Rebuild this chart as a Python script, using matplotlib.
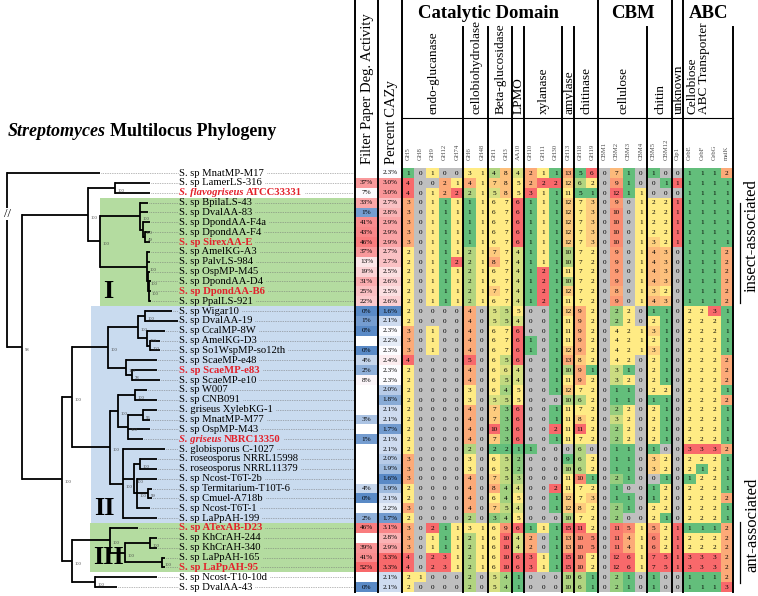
import numpy as np
import matplotlib.pyplot as plt
from matplotlib.patches import Rectangle
from matplotlib.colors import to_rgb

plt.rcParams['font.family'] = ['Liberation Serif', 'DejaVu Serif']

# ---------------- data ----------------
strains = [
    "S. sp MnatMP-M17", "S. sp LamerLS-316", "S. flavogriseus ATCC33331", "S. sp BpilaLS-43",
    "S. sp DvalAA-83", "S. sp DpondAA-F4a", "S. sp DpondAA-F4", "S. sp SirexAA-E",
    "S. sp AmelKG-A3", "S. sp PalvLS-984", "S. sp OspMP-M45", "S. sp DpondAA-D4",
    "S. sp DpondAA-B6", "S. sp PpalLS-921", "S. sp Wigar10", "S. sp DvalAA-19",
    "S. sp CcalMP-8W", "S. sp AmelKG-D3", "S. sp So1WspMP-so12th", "S. sp ScaeMP-e48",
    "S. sp ScaeMP-e83", "S. sp ScaeMP-e10", "S. sp W007", "S. sp CNB091",
    "S. griseus XylebKG-1", "S. sp MnatMP-M77", "S. sp OspMP-M43", "S. griseus NBRC13350",
    "S. globisporus C-1027", "S. roseosporus NRRL15998", "S. roseosporus NRRL11379", "S. sp Ncost-T6T-2b",
    "S. sp Termitarium-T10T-6", "S. sp Cmuel-A718b", "S. sp Ncost-T6T-1", "S. sp LaPpAH-199",
    "S. sp ATexAB-D23", "S. sp KhCrAH-244", "S. sp KhCrAH-340", "S. sp LaPpAH-165",
    "S. sp LaPpAH-95", "S. sp Ncost-T10-10d", "S. sp DvalAA-43",
]
highlighted = [2, 7, 12, 20, 27, 36, 40]
italic_part = {2: "S. flavogriseus", 27: "S. griseus"}

filter_paper = [None, 37, 7, 33, 1, 41, 43, 46, 37, 13, 19, 31, 25, 22,
                0, 1, 0, None, 0, 4, 2, 8, None, None, None, 3, None, 1,
                None, None, None, None, 4, 0, None, 2,
                46, None, 39, 41, 52, None, 0]
percent_cazy = [2.3, 3.0, 3.0, 2.7, 2.8, 2.9, 2.9, 2.9, 2.7, 2.7, 2.5, 2.6, 2.5, 2.6,
                1.6, 2.1, 2.3, 2.2, 2.3, 2.4, 2.3, 2.3, 2.0, 1.8, 2.1, 2.1, 1.7, 2.1,
                2.1, 2.0, 1.9, 1.6, 1.9, 2.1, 2.2, 1.7,
                3.1, 2.8, 2.9, 3.3, 3.3, 2.1, 2.1]

columns = ["GH5", "GH8", "GH9", "GH12", "GH74", "GH6", "GH48", "GH1", "GH3", "AA10",
           "GH10", "GH11", "GH30", "GH13", "GH18", "GH19", "CBM1", "CBM2", "CBM3", "CBM4",
           "CBM5", "CBM12", "Cip1", "CebE", "CebF", "CebG", "msiK"]
groups = ["endo-glucanase", "cellobiohydrolase", "Beta-glucosidase", "LPMO", "xylanase",
          "amylase", "chitinase", "cellulose", "chitin", "unknown", "Cellobiose"]
group_sizes = [5, 2, 2, 1, 3, 1, 2, 4, 2, 1, 4]

counts = np.array([
    [1, 0, 1, 0, 0, 3, 1, 4, 8, 4, 2, 1, 1, 13, 5, 6, 0, 7, 1, 0, 1, 0, 0, 1, 1, 1, 2],
    [4, 0, 0, 2, 1, 4, 1, 7, 8, 5, 2, 2, 2, 12, 6, 2, 0, 9, 1, 0, 0, 1, 1, 1, 1, 1, 1],
    [4, 0, 1, 2, 2, 2, 1, 5, 8, 5, 3, 1, 1, 11, 5, 1, 0, 12, 1, 1, 0, 0, 0, 1, 1, 1, 1],
    [3, 0, 1, 1, 1, 1, 1, 6, 7, 6, 1, 1, 1, 12, 7, 3, 0, 9, 0, 1, 2, 2, 1, 1, 1, 1, 1],
    [3, 0, 1, 1, 1, 1, 1, 6, 7, 6, 1, 1, 1, 12, 7, 3, 0, 10, 0, 1, 2, 2, 1, 1, 1, 1, 1],
    [3, 0, 1, 1, 1, 1, 1, 6, 7, 6, 1, 1, 1, 12, 7, 3, 0, 10, 0, 1, 2, 2, 1, 1, 1, 1, 1],
    [3, 0, 1, 1, 1, 1, 1, 6, 7, 6, 1, 1, 1, 12, 7, 3, 0, 10, 0, 1, 2, 2, 1, 1, 1, 1, 1],
    [3, 0, 1, 1, 1, 1, 1, 6, 7, 6, 1, 1, 1, 12, 7, 3, 0, 10, 0, 1, 3, 2, 1, 1, 1, 1, 1],
    [2, 0, 1, 1, 1, 2, 1, 7, 7, 4, 1, 1, 1, 10, 7, 2, 0, 9, 0, 1, 4, 3, 0, 1, 1, 1, 2],
    [2, 0, 1, 1, 2, 2, 1, 8, 7, 4, 1, 1, 1, 10, 7, 2, 0, 9, 0, 1, 4, 3, 0, 1, 1, 1, 2],
    [2, 0, 1, 1, 1, 2, 1, 6, 7, 4, 1, 2, 1, 11, 7, 2, 0, 9, 0, 1, 4, 3, 0, 1, 1, 1, 2],
    [2, 0, 1, 1, 1, 2, 1, 6, 7, 4, 1, 2, 1, 10, 7, 2, 0, 9, 0, 1, 4, 3, 0, 1, 1, 1, 2],
    [2, 0, 1, 1, 1, 2, 1, 7, 7, 4, 1, 2, 1, 12, 7, 2, 0, 8, 0, 1, 3, 2, 0, 1, 1, 1, 2],
    [2, 0, 1, 1, 1, 2, 1, 6, 7, 4, 1, 2, 1, 11, 7, 2, 0, 9, 0, 1, 4, 3, 0, 1, 1, 1, 2],
    [2, 0, 0, 0, 0, 4, 0, 5, 5, 5, 0, 0, 1, 12, 9, 2, 0, 2, 2, 0, 1, 1, 0, 2, 2, 3, 1],
    [2, 0, 0, 0, 0, 4, 0, 5, 5, 4, 0, 0, 1, 11, 9, 2, 0, 2, 2, 0, 2, 1, 0, 2, 2, 2, 1],
    [3, 0, 1, 0, 0, 4, 0, 6, 7, 6, 0, 0, 1, 11, 9, 2, 0, 4, 2, 1, 3, 1, 0, 2, 2, 2, 1],
    [3, 0, 1, 0, 0, 4, 0, 6, 7, 6, 1, 0, 1, 11, 9, 2, 0, 4, 2, 1, 2, 1, 0, 2, 2, 2, 1],
    [3, 0, 1, 0, 0, 4, 0, 6, 7, 6, 1, 0, 1, 12, 9, 2, 0, 4, 2, 1, 3, 1, 0, 2, 2, 2, 1],
    [4, 0, 0, 0, 0, 5, 0, 6, 5, 6, 0, 0, 1, 13, 8, 2, 0, 4, 2, 0, 2, 1, 0, 2, 2, 2, 2],
    [2, 0, 0, 0, 0, 4, 0, 6, 6, 4, 0, 0, 1, 10, 9, 1, 0, 3, 1, 0, 2, 1, 0, 2, 2, 2, 2],
    [2, 0, 0, 0, 0, 4, 0, 6, 5, 4, 0, 0, 1, 11, 9, 2, 0, 3, 2, 0, 2, 1, 0, 2, 2, 2, 2],
    [2, 0, 0, 0, 0, 3, 0, 6, 4, 5, 0, 0, 1, 12, 7, 2, 0, 1, 1, 0, 2, 2, 0, 2, 2, 2, 1],
    [2, 0, 0, 0, 0, 3, 0, 5, 5, 5, 0, 0, 0, 10, 6, 2, 0, 1, 1, 0, 1, 1, 0, 2, 2, 2, 2],
    [2, 0, 0, 0, 0, 4, 0, 7, 3, 6, 0, 0, 1, 11, 7, 2, 0, 2, 2, 0, 2, 1, 0, 2, 2, 2, 1],
    [2, 0, 0, 0, 0, 4, 0, 7, 3, 6, 0, 0, 1, 11, 8, 2, 0, 3, 2, 0, 2, 1, 0, 2, 2, 2, 1],
    [2, 0, 0, 0, 0, 4, 0, 10, 3, 6, 0, 0, 2, 11, 11, 2, 0, 2, 2, 0, 2, 1, 0, 2, 2, 2, 1],
    [2, 0, 0, 0, 0, 4, 0, 7, 3, 6, 0, 0, 1, 11, 7, 2, 0, 2, 2, 0, 2, 1, 0, 2, 2, 2, 1],
    [2, 0, 0, 0, 0, 2, 0, 2, 2, 1, 1, 0, 0, 0, 6, 0, 0, 1, 1, 0, 1, 0, 0, 3, 3, 3, 2],
    [3, 0, 0, 0, 0, 3, 0, 6, 5, 2, 0, 0, 0, 9, 6, 2, 0, 1, 1, 0, 3, 2, 0, 2, 2, 2, 1],
    [3, 0, 0, 0, 0, 3, 0, 6, 5, 2, 0, 0, 0, 10, 6, 2, 0, 1, 1, 0, 3, 2, 0, 2, 1, 2, 1],
    [3, 0, 0, 0, 0, 4, 0, 7, 5, 3, 0, 0, 0, 11, 10, 1, 0, 2, 1, 0, 0, 1, 0, 1, 2, 2, 1],
    [2, 0, 0, 0, 0, 4, 0, 8, 4, 4, 0, 0, 2, 11, 7, 2, 0, 1, 0, 0, 1, 2, 0, 2, 2, 2, 1],
    [2, 0, 0, 0, 0, 4, 0, 6, 4, 5, 0, 0, 1, 12, 7, 3, 0, 1, 1, 0, 1, 2, 0, 2, 2, 2, 2],
    [3, 0, 0, 0, 0, 4, 0, 7, 5, 4, 0, 0, 1, 12, 8, 2, 0, 2, 1, 0, 2, 2, 0, 2, 2, 2, 1],
    [2, 0, 0, 0, 0, 2, 0, 3, 4, 5, 0, 0, 0, 10, 7, 2, 0, 2, 0, 0, 2, 1, 0, 2, 2, 2, 1],
    [3, 0, 2, 1, 1, 3, 1, 6, 9, 6, 1, 1, 1, 15, 11, 2, 0, 11, 5, 1, 5, 2, 1, 1, 1, 1, 2],
    [3, 0, 1, 1, 1, 2, 1, 6, 10, 4, 2, 0, 1, 13, 10, 5, 0, 11, 4, 1, 6, 2, 1, 2, 2, 2, 2],
    [3, 0, 1, 1, 1, 2, 1, 6, 10, 4, 2, 0, 1, 13, 10, 5, 0, 11, 4, 1, 6, 2, 1, 2, 2, 2, 2],
    [4, 0, 2, 3, 1, 2, 1, 6, 10, 6, 3, 1, 1, 15, 10, 2, 0, 12, 6, 1, 7, 5, 1, 3, 3, 3, 2],
    [4, 0, 2, 3, 1, 2, 1, 6, 10, 6, 3, 1, 1, 15, 10, 2, 0, 12, 6, 1, 7, 5, 1, 3, 3, 3, 2],
    [2, 1, 0, 0, 0, 2, 0, 5, 4, 1, 0, 0, 0, 10, 6, 1, 0, 2, 1, 0, 1, 0, 0, 1, 1, 1, 2],
    [2, 0, 0, 0, 0, 2, 0, 5, 4, 1, 0, 0, 0, 10, 6, 1, 0, 2, 1, 0, 1, 0, 0, 1, 1, 1, 3],
])

# tree: internal node = (x, bootstrap, children); leaf = (row, tip_x)
tree = (7, None, [
    (0, 100),
    (22, "98", [
        (88, "100", [
            (115, "100", [(1, 150), (2, 150)]),
            (100, "100", [
                (140, "100", [(3, 148), (4, 148),
                              (143, "100", [(5, 150), (145, "49", [(6, 150), (7, 150)])])]),
                (147, "100", [(8, 150), (9, 150),
                              (148, "100", [(10, 150), (149, "100", [(11, 151), (12, 151), (13, 151)])])]),
            ]),
        ]),
        (62, "100", [
            (72, "100", [
                (108, "100", [
                    (138, "100", [(145, "100", [(14, 172), (15, 178)]),
                                  (147, "100", [(16, 165), (150, "100", [(17, 160), (18, 160)])])]),
                    (126, "100", [(19, 157), (132, "78", [(20, 157), (21, 160)])]),
                ]),
                (110, "100", [
                    (118, "100", [(135, "100", [(22, 147), (23, 157)]),
                                  (128, "100", [(143, "96", [(24, 157), (25, 150)]), (26, 150), (27, 143)])]),
                    (123, "100", [(28, 165),
                                  (134, "100", [(140, "100", [(29, 157), (30, 157)]),
                                                (137, "100", [(31, 157), (148, "99", [(32, 152), (33, 152)]), (34, 150)])]),
                                  (35, 157)]),
                ]),
            ]),
            (72, "100", [
                (110, "100", [(36, 138),
                              (125, "100", [(150, "100", [(37, 157), (38, 157)]),
                                            (162, "100", [(39, 165), (40, 165)])])]),
                (95, "100", [(41, 157), (42, 117)]),
            ]),
        ]),
    ]),
])

# ---------------- layout / style ----------------
W, H = 758, 596
ROW0, DY = 173.0, 9.86
TAB_L, FP_R, CZ_R = 355, 378, 402
group_edges = [402, 463, 488, 512, 524, 562, 574, 598, 647, 672, 683, 733]
LABEL_X = 179

GREEN, YELLOW, RED = '#63BE7B', '#FFEB84', '#F8696B'
BLUE, WHITE, GREY = '#5A8AC6', '#FCFCFF', '#BFBFBF'
HL_RED = '#E3212B'
# columns whose lowest count is shown green rather than yellow
LOW_GREEN = {"GH12", "GH10", "GH30", "CBM12", "msiK"}
SINGLE_RED = {"Cip1"}

col_left, col_w = [], []
for g, n in enumerate(group_sizes):
    w = (group_edges[g + 1] - group_edges[g]) / n
    for k in range(n):
        col_left.append(group_edges[g] + k * w)
        col_w.append(w)

n_rows = len(strains)
row_y = ROW0 + DY * np.arange(n_rows)


def blend(c1, c2, t):
    t = min(max(t, 0), 1)
    return tuple(np.array(to_rgb(c1)) * (1 - t) + np.array(to_rgb(c2)) * t)


def scale3(v, lo, mid, hi, clo, cmid, chi):
    if v <= mid:
        return blend(clo, cmid, 1.0 if mid == lo else (v - lo) / (mid - lo))
    return blend(cmid, chi, (v - mid) / (hi - mid))


def count_colour(v, col, name):
    if v == 0:
        return GREY
    nz = col[col > 0]
    lo, hi, mid = nz.min(), nz.max(), np.median(nz)
    if hi == lo:
        return RED if name in SINGLE_RED else YELLOW
    if v == lo and mid == lo:
        return GREEN if name in LOW_GREEN else YELLOW
    return scale3(v, lo, mid, hi, GREEN, YELLOW, RED)


fig = plt.figure(figsize=(W / 100, H / 100), dpi=100)
ax = fig.add_axes([0, 0, 1, 1])
ax.set_xlim(0, W)
ax.set_ylim(H, 0)
ax.axis('off')

# clade boxes
box_specs = [(3, 13, 100, '#B4DCA0', 'I'), (14, 35, 91, '#C9DBEF', 'II'), (36, 40, 90, '#B4DCA0', 'III')]
for r0, r1, x0, c, lab in box_specs:
    top = row_y[r0] - DY / 2
    bot = row_y[r1] + DY / 2
    ax.add_patch(Rectangle((x0, top), TAB_L - x0, bot - top, fc=c, ec='none', zorder=0))
    ax.text(x0 + 3, bot - 3, lab, fontsize=19, fontweight='bold', ha='left', va='bottom', zorder=3)


def draw(node, x_parent):
    if len(node) == 2:
        r, tip = node
        y = row_y[r]
        ax.plot([x_parent, tip], [y, y], color='black', lw=1.3, solid_capstyle='butt', zorder=2)
        ax.plot([tip + 1, LABEL_X - 1], [y, y], color='0.45', lw=0.5, ls=(0, (1, 1.5)), zorder=1)
        return y
    x, boot, kids = node
    ys = [draw(k, x) for k in kids]
    y = (min(ys) + max(ys)) / 2
    ax.plot([x, x], [min(ys), max(ys)], color='black', lw=1.3, solid_capstyle='projecting', zorder=2)
    if x_parent is not None:
        ax.plot([x_parent, x], [y, y], color='black', lw=1.3, solid_capstyle='butt', zorder=2)
    if boot:
        ax.text(x + 2.5, y + 3, boot, fontsize=3.3, color='0.25', ha='left', va='center', zorder=3)
    return y


root_y = draw(tree, None)
ax.text(8, 214, "//", fontsize=9, ha='center', va='center',
        bbox=dict(fc='white', ec='none', pad=0), zorder=3)

# strain labels with dotted leaders
renderer = fig.canvas.get_renderer()
inv = ax.transData.inverted()
for i, name in enumerate(strains):
    y = row_y[i]
    hl = i in highlighted
    kw = dict(fontsize=7.7, va='center', ha='left', color=HL_RED if hl else 'black',
              fontweight='bold' if hl else 'normal', zorder=3)
    x = LABEL_X
    if i in italic_part:
        head = italic_part[i]
        t = ax.text(x, y, head, style='italic', **kw)
        x = inv.transform((t.get_window_extent(renderer).x1, 0))[0] + 2.5
        name = name[len(head) + 1:]
    t = ax.text(x, y, name, **kw)
    x_end = inv.transform((t.get_window_extent(renderer).x1, 0))[0]
    ax.plot([x_end + 3, TAB_L - 1], [y, y], color='0.45', lw=0.5, ls=(0, (1, 1.5)), zorder=1)

# filter paper / percent CAZy
fp_vals = [v for v in filter_paper if v is not None]
for i in range(n_rows):
    y = row_y[i] - DY / 2
    v = filter_paper[i]
    c = 'white' if v is None else scale3(v, 0, 6, max(fp_vals), BLUE, WHITE, RED)
    ax.add_patch(Rectangle((TAB_L, y), FP_R - TAB_L, DY, fc=c, ec='none'))
    if v is not None:
        ax.text((TAB_L + FP_R) / 2, row_y[i], f"{v}%", fontsize=5.2, ha='center', va='center')
    p = percent_cazy[i]
    c = scale3(p, min(percent_cazy), 2.3, max(percent_cazy), BLUE, WHITE, RED)
    ax.add_patch(Rectangle((FP_R, y), CZ_R - FP_R, DY, fc=c, ec='none'))
    ax.text((FP_R + CZ_R) / 2, row_y[i], f"{p:.1f}%", fontsize=5.2, ha='center', va='center')

# gene count cells, coloured column by column
for j, cname in enumerate(columns):
    col = counts[:, j]
    for i in range(n_rows):
        v = col[i]
        ax.add_patch(Rectangle((col_left[j], row_y[i] - DY / 2), col_w[j], DY,
                               fc=count_colour(v, col, cname), ec='none'))
        ax.text(col_left[j] + col_w[j] / 2, row_y[i] + 0.3, str(v), fontsize=5.2, ha='center', va='center')

table_bottom = row_y[-1] + DY / 2

# separators
full_lines = [group_edges[7], group_edges[9], group_edges[10]]
for x in group_edges:
    top = 0 if (x in full_lines or x == CZ_R) else 27
    ax.plot([x, x], [top, table_bottom], color='black', lw=1.4, zorder=4)
for x in [TAB_L, FP_R]:
    ax.plot([x, x], [0, table_bottom], color='black', lw=1.4, zorder=4)
ax.plot([CZ_R, group_edges[-1]], [118, 118], color='black', lw=0.8, zorder=4)

# header text
ax.text((TAB_L + FP_R) / 2 + 1, 164, "Filter Paper Deg. Activity", rotation=90, fontsize=10.5,
        ha='center', va='bottom')
ax.text((FP_R + CZ_R) / 2 + 1, 164, "Percent CAZy", rotation=90, fontsize=10.5, ha='center', va='bottom')
ax.text(488, 13, "Catalytic Domain", fontsize=13.5, fontweight='bold', ha='center', va='center')
ax.text(633, 13, "CBM", fontsize=13.5, fontweight='bold', ha='center', va='center')
ax.text(689, 13, "ABC", fontsize=13.5, fontweight='bold', ha='left', va='center')

for g, gname in enumerate(groups):
    x0, x1 = group_edges[g], group_edges[g + 1]
    if gname == "Cellobiose":
        ax.text(x0 + 9, 114, "Cellobiose", rotation=90, fontsize=9.5, ha='center', va='bottom')
        ax.text(x0 + 21, 114, "ABC Transporter", rotation=90, fontsize=9.5, ha='center', va='bottom')
        continue
    ax.text((x0 + x1) / 2 + 1, 114, gname, rotation=90, fontsize=9.5, ha='center', va='bottom')

for j, cname in enumerate(columns):
    ax.text(col_left[j] + col_w[j] / 2, 160, cname, rotation=90, fontsize=4.8, color='0.3',
            ha='center', va='bottom')

# title
t = ax.text(8, 132, "Streptomyces", fontsize=13, fontweight='bold', style='italic', ha='left', va='center')
x_t = inv.transform((t.get_window_extent(renderer).x1, 0))[0]
ax.text(x_t + 4, 132, "Multilocus Phylogeny", fontsize=13, fontweight='bold', ha='left', va='center')

# association brackets
for y0, y1, yc, lab in [(203, 303, 236, "insect-associated"), (522, 583, 525, "ant-associated")]:
    ax.plot([740, 740], [y0, y1], color='black', lw=0.9)
    ax.text(752, yc, lab, rotation=90, fontsize=12, ha='center', va='center')

fig.savefig("out.png", dpi=100)
